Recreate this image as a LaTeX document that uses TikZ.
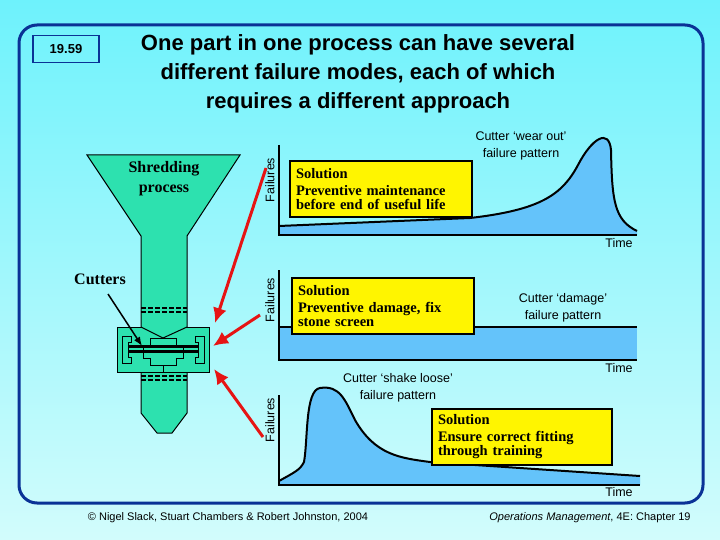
\documentclass[tikz,border=0pt]{standalone}
\usepackage{fontspec}
\setmainfont{Liberation Serif}
\setsansfont{Liberation Sans}
\usetikzlibrary{positioning,arrows.meta}
\definecolor{bgtop}{RGB}{110,242,252}
\definecolor{bgbot}{RGB}{210,252,252}
\definecolor{frameblue}{RGB}{10,50,150}
\definecolor{teal}{RGB}{45,225,175}
\definecolor{curveblue}{RGB}{100,195,250}
\definecolor{boxyellow}{RGB}{255,245,0}
\definecolor{arrowred}{RGB}{230,20,20}

\begin{document}
\begin{tikzpicture}
		[x=1pt, y=-1pt,
		solution/.style={draw=black, line width=2pt, fill=boxyellow, anchor=north west, inner xsep=6pt, inner ysep=2pt, text width=#1, minimum height=56pt, align=left, font=\bfseries\fontsize{14.5}{14}\selectfont},
		pattern/.style={font=\sffamily\fontsize{12.5}{17}\selectfont, align=center},
		axislabel/.style={font=\sffamily\fontsize{12.5}{12}\selectfont, rotate=90},
		timelabel/.style={font=\sffamily\fontsize{12.5}{12}\selectfont},
		redarrow/.style={draw=arrowred, line width=3pt, -{Latex[length=15pt,width=14pt]}},
		part/.style={fill=teal, draw=black, line width=1pt}]
		\useasboundingbox (0,0) rectangle (720,540);
		\shade[top color=bgtop, bottom color=bgbot] (0,0) rectangle (720,540);
		\draw[frameblue, line width=3pt, rounded corners=18pt] (19,25) rectangle (703,503);

		% title
		\node[draw=frameblue, line width=1.2pt, minimum width=66pt, minimum height=27pt, font=\sffamily\bfseries\fontsize{13}{13}\selectfont] (num) at (66,49) {19.59};
		\node[font=\sffamily\bfseries\fontsize{22}{29}\selectfont, align=center] (title) at (358,74)
			{One part in one process can have several\\different failure modes, each of which\\requires a different approach};

		% shredder
		\draw[part] (87,155) -- (240,155) -- (187,236) -- (187,413) -- (172,433) -- (157,433) -- (141,413) -- (141,236) -- cycle;
		\draw[part] (117,327) rectangle (209,372);
		\draw[black, line width=1pt, fill=teal] (141,327) -- (163,338) -- (187,327);
		\draw[line width=1pt] (150,338) -- (176,338) -- (176,345) -- (183,345) -- (183,358) -- (176,358) -- (176,365) -- (150,365) -- (150,358) -- (143,358) -- (143,345) -- (150,345) -- cycle;
		\draw[line width=1pt] (131,336) -- (122,336) -- (122,363) -- (131,363) -- (131,357) -- (128,357) -- (128,342) -- (131,342) -- cycle;
		\draw[line width=1pt] (195,336) -- (204,336) -- (204,363) -- (195,363) -- (195,357) -- (198,357) -- (198,342) -- (195,342) -- cycle;
		\draw[line width=1pt] (163,365) -- (163,372);
		\fill[black] (128,345) rectangle (198,348);
		\fill[black] (128,350) rectangle (198,353);
		\foreach \yy in {308,312,376,380}
			\draw[line width=1.2pt, dash pattern=on 5pt off 2pt] (141,\yy) -- (187,\yy);
		\node[font=\bfseries\fontsize{16}{20}\selectfont, align=center] (shred) at (164,179) {Shredding\\process};
		\node[font=\bfseries\fontsize{16}{16}\selectfont] (cut) at (100,279) {Cutters};
		\coordinate (blade) at (142,346);
		\draw[line width=1.5pt, -{Latex[length=9pt,width=7pt]}] (108,294) -- (blade);

		% red arrows
		\coordinate (a1) at (266,168); \coordinate (h1) at (215,323);
		\coordinate (a2) at (260,315); \coordinate (h2) at (213,346);
		\coordinate (a3) at (263,437); \coordinate (h3) at (214,369);
		\draw[redarrow] (a1) -- (h1);
		\draw[redarrow] (a2) -- (h2);
		\draw[redarrow] (a3) -- (h3);

		% chart 1: wear out
		\fill[curveblue] (279,226) -- (470,218) .. controls (540,210) and (562,195) .. (578,165) .. controls (592,138) and (609,128) .. (611,150) .. controls (612,200) and (614,220) .. (637,231) -- (637,235) -- (279,235) -- cycle;
		\draw[line width=2pt] (279,226) -- (470,218) .. controls (540,210) and (562,195) .. (578,165) .. controls (592,138) and (609,128) .. (611,150) .. controls (612,200) and (614,220) .. (637,231);
		\draw[line width=1.5pt] (279,145) -- (279,235) -- (637,235);
		\node[solution=170pt] (sol1) at (289,160) {Solution\\[3pt]Preventive maintenance\\before end of useful life};
		\node[pattern] (pat1) at (521,146) {Cutter ‘wear out’\\failure pattern};
		\node[axislabel] (fail1) at (270,180) {Failures};
		\node[timelabel] (time1) at (619,243) {Time};

		% chart 2: damage
		\fill[curveblue] (279,327) rectangle (637,360);
		\draw[line width=2pt] (279,327) -- (637,327);
		\draw[line width=1.5pt] (279,270) -- (279,360) -- (637,360);
		\node[solution=170pt] (sol2) at (291,277) {Solution\\[3pt]Preventive damage, fix\\stone screen};
		\node[pattern] (pat2) at (563,308) {Cutter ‘damage’\\failure pattern};
		\node[axislabel] (fail2) at (270,300) {Failures};
		\node[timelabel] (time2) at (619,368) {Time};

		% chart 3: shake loose
		\fill[curveblue] (279,481) .. controls (295,472) and (300,470) .. (304,462) .. controls (308,440) and (305,390) .. (320,388) .. controls (340,385) and (345,400) .. (355,420) .. controls (375,455) and (400,458) .. (430,462) -- (640,476) -- (640,485) -- (279,485) -- cycle;
		\draw[line width=2pt] (279,481) .. controls (295,472) and (300,470) .. (304,462) .. controls (308,440) and (305,390) .. (320,388) .. controls (340,385) and (345,400) .. (355,420) .. controls (375,455) and (400,458) .. (430,462) -- (640,476);
		\draw[line width=1.5pt] (279,395) -- (279,485) -- (640,485);
		\node[solution=168pt] (sol3) at (431,408) {Solution\\[3pt]Ensure correct fitting\\through training};
		\node[pattern] (pat3) at (398,388) {Cutter ‘shake loose’\\failure pattern};
		\node[axislabel] (fail3) at (270,420) {Failures};
		\node[timelabel] (time3) at (619,492) {Time};

		% footer
		\node[font=\sffamily\fontsize{11}{12}\selectfont] (copy) at (228,518) {© Nigel Slack, Stuart Chambers \& Robert Johnston, 2004};
		\node[font=\sffamily\fontsize{11}{12}\selectfont] (book) at (590,518) {\textit{Operations Management}, 4E: Chapter 19};
	\end{tikzpicture}
\end{document}
